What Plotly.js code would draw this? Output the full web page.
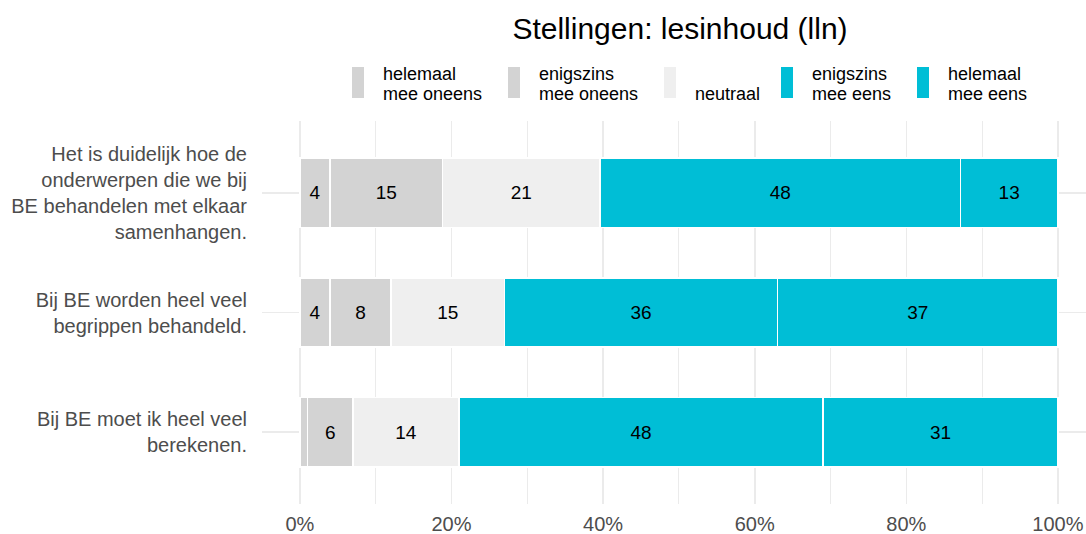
<!DOCTYPE html>
<html lang="nl">
<head>
    <meta charset="UTF-8">
    <title>Stellingen: lesinhoud (lln)</title>
    <script src="https://cdn.plot.ly/plotly-3.0.1.min.js"></script>
    <style>
        body { margin: 0; background: white; }
        #chart { width: 1086px; height: 534px; }
    </style>
</head>
<body>
    <div id="chart"></div>
    <script>
        // statements (top to bottom)
        const statements = [
            'Het is duidelijk hoe de<br>onderwerpen die we bij<br>BE behandelen met elkaar<br>samenhangen.',
            'Bij BE worden heel veel<br>begrippen behandeld.',
            'Bij BE moet ik heel veel<br>berekenen.'
        ];

        // answer categories, left to right
        const answers = [
            'helemaal\nmee oneens',
            'enigszins\nmee oneens',
            '\nneutraal',
            'enigszins\nmee eens',
            'helemaal\nmee eens'
        ];
        const colors = ['#d3d3d3', '#d3d3d3', '#efefef', '#00bed6', '#00bed6'];

        // percentages per answer, one value per statement
        const helemaalOneens = [4, 4, 1];
        const enigszinsOneens = [15, 8, 6];
        const neutraal = [21, 15, 14];
        const enigszinsEens = [48, 36, 48];
        const helemaalEens = [13, 37, 31];
        const series = [helemaalOneens, enigszinsOneens, neutraal, enigszinsEens, helemaalEens];

        const font = '"Liberation Sans", Arial, sans-serif';

        const traces = series.map((vals, i) => ({
            type: 'bar',
            orientation: 'h',
            name: answers[i].replace('\n', ' ').trim(),
            x: vals,
            y: statements,
            marker: { color: colors[i], line: { color: 'white', width: 1.5 } },
            text: vals.map(v => v >= 2 ? String(v) : ''),
            textposition: 'inside',
            insidetextanchor: 'middle',
            textangle: 0,
            constraintext: 'none',
            textfont: { family: font, size: 19, color: 'black' },
            hoverinfo: 'name+x',
            showlegend: false
        }));

        // plot area in pixels
        const L = 262, R = 1086, T = 121, B = 504;
        const px = x => (x - L) / (R - L);
        const py = y => (B - y) / (B - T);

        // hand-made legend (tall narrow keys, two-line labels)
        const keyX = [352, 508, 664, 781, 917];
        const shapes = [];
        const annotations = [];
        answers.forEach((lab, i) => {
            shapes.push({
                type: 'rect', xref: 'paper', yref: 'paper',
                x0: px(keyX[i]), x1: px(keyX[i] + 12),
                y0: py(98), y1: py(67),
                fillcolor: colors[i], line: { width: 0 }
            });
            lab.split('\n').forEach((line, j) => {
                if (!line) return;
                annotations.push({
                    text: line, xref: 'paper', yref: 'paper',
                    x: px(keyX[i] + 29), y: py(74 + 20 * j),
                    xanchor: 'left', yanchor: 'middle', showarrow: false,
                    font: { family: font, size: 18, color: 'black' }
                });
            });
        });

        const layout = {
            width: 1086,
            height: 534,
            margin: { l: L, r: 1086 - R, t: T, b: 534 - B },
            paper_bgcolor: 'white',
            plot_bgcolor: 'white',
            font: { family: font },
            title: {
                text: 'Stellingen: lesinhoud (lln)',
                font: { family: font, size: 30, color: 'black' },
                xref: 'container', yref: 'container',
                x: 680 / 1086, xanchor: 'center',
                y: 1 - 28 / 534, yanchor: 'middle'
            },
            barmode: 'stack',
            barnorm: 'percent',
            bargap: 0.42,
            showlegend: false,
            xaxis: {
                range: [-5, 103.7],
                tick0: 0,
                dtick: 20,
                ticksuffix: '%',
                ticks: '',
                ticklabelstandoff: 6,
                tickfont: { family: font, size: 20, color: '#4d4d4d' },
                showgrid: true,
                gridcolor: '#ebebeb',
                gridwidth: 1.6,
                minor: { dtick: 10, showgrid: true, gridcolor: '#ebebeb', gridwidth: 1 },
                zeroline: false,
                showline: false,
                automargin: false,
                fixedrange: true
            },
            yaxis: {
                type: 'category',
                range: [2.6, -0.6],
                ticks: '',
                ticklabelstandoff: 14,
                tickfont: { family: font, size: 20, color: '#4d4d4d' },
                showgrid: true,
                gridcolor: '#ebebeb',
                gridwidth: 1.6,
                zeroline: false,
                showline: false,
                automargin: false,
                fixedrange: true
            },
            shapes: shapes,
            annotations: annotations
        };

        Plotly.newPlot('chart', traces, layout, { displayModeBar: false, staticPlot: true });
    </script>
</body>
</html>
